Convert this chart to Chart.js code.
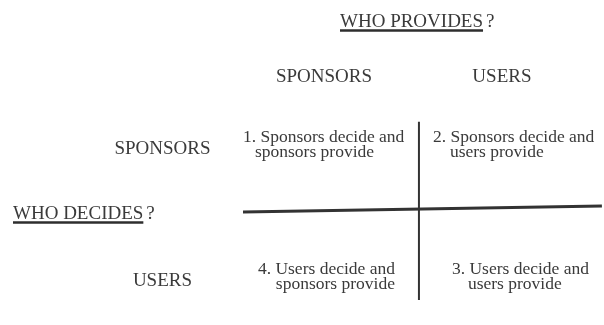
<!DOCTYPE html>
<html>
<head>
<meta charset="utf-8">
<script src="https://cdn.jsdelivr.net/npm/chart.js@4.4.0/dist/chart.umd.min.js"></script>
<style>
  html, body { margin: 0; padding: 0; background: #fff; }
  #wrap { width: 604px; height: 325px; }
</style>
</head>
<body>
<div id="wrap"><canvas id="matrixChart"></canvas></div>
<script>
// columns = who provides, rows = who decides
const providers = ['SPONSORS', 'USERS'];
const deciders = ['SPONSORS', 'USERS'];
const providesTitle = 'WHO PROVIDES';
const decidesTitle = 'WHO DECIDES';
const cellText = [
  [['1. Sponsors decide and', 'sponsors provide'], ['2. Sponsors decide and', 'users provide']],
  [['4. Users decide and', 'sponsors provide'], ['3. Users decide and', 'users provide']]
];

// how each cell's two lines sit (pixels from the cell anchor)
const cellLayout = [
  [{ align: 'left', dx: -81, indent: 12 }, { align: 'left', dx: -81, indent: 17 }],
  [{ align: 'right', dx: 71, indent: 0 }, { align: 'left', dx: -62, indent: 16 }]
];
const headerDx = [0, -12];

const ink = '#3a3a3a';
const serif = '"Liberation Serif", "Times New Roman", serif';

const textPlugin = {
  id: 'matrixText',
  afterDraw(chart) {
    const ctx = chart.ctx;
    const x = chart.scales.x, y = chart.scales.y;
    ctx.save();
    ctx.fillStyle = ink;
    ctx.strokeStyle = '#2e2e2e';
    ctx.textBaseline = 'alphabetic';

    // title over the columns
    ctx.font = '19px ' + serif;
    ctx.textAlign = 'left';
    let tx = 340, ty = 27;
    ctx.fillText(providesTitle, tx, ty);
    let w = ctx.measureText(providesTitle).width;
    ctx.fillText('?', tx + w + 3, ty);
    ctx.lineWidth = 2.5;
    ctx.beginPath(); ctx.moveTo(tx, ty + 3.5); ctx.lineTo(tx + w, ty + 3.5); ctx.stroke();

    // title for the rows
    tx = 13; ty = 219;
    ctx.fillText(decidesTitle, tx, ty);
    w = ctx.measureText(decidesTitle).width;
    ctx.fillText('?', tx + w + 3, ty);
    ctx.beginPath(); ctx.moveTo(tx, ty + 3.5); ctx.lineTo(tx + w, ty + 3.5); ctx.stroke();

    // column headers
    ctx.textAlign = 'center';
    providers.forEach((p, i) => {
      ctx.fillText(p, x.getPixelForValue(i) + headerDx[i], y.getPixelForValue(-0.477));
    });
    // row labels
    deciders.forEach((d, j) => {
      ctx.fillText(d, x.getPixelForValue(-0.85), y.getPixelForValue(j) + 9);
    });

    // cells
    ctx.font = '17.5px ' + serif;
    cellText.forEach((row, j) => {
      row.forEach((lines, i) => {
        const lay = cellLayout[j][i];
        const cx = x.getPixelForValue(i) + lay.dx;
        const cy = y.getPixelForValue(j);
        ctx.textAlign = lay.align;
        ctx.fillText(lines[0], cx, cy - 3);
        ctx.fillText(lines[1], cx + lay.indent, cy + 12);
      });
    });
    ctx.restore();
  }
};

new Chart(document.getElementById('matrixChart'), {
  type: 'scatter',
  data: {
    datasets: [{
      data: [{ x: 0.5, y: -0.175 }, { x: 0.5, y: 1.175 }],
      showLine: true,
      borderColor: '#333',
      borderWidth: 2,
      pointRadius: 0
    }, {
      data: [{ x: -0.426, y: 0.508 }, { x: 1.463, y: 0.462 }],
      showLine: true,
      borderColor: '#333',
      borderWidth: 3,
      pointRadius: 0
    }]
  },
  options: {
    responsive: true,
    maintainAspectRatio: false,
    animation: false,
    layout: { padding: 0 },
    scales: {
      x: { type: 'linear', min: -1.705, max: 1.474, display: false },
      y: { type: 'linear', min: -1.098, max: 1.364, reverse: true, display: false }
    },
    plugins: {
      legend: { display: false },
      tooltip: { enabled: false }
    }
  },
  plugins: [textPlugin]
});
</script>
</body>
</html>
